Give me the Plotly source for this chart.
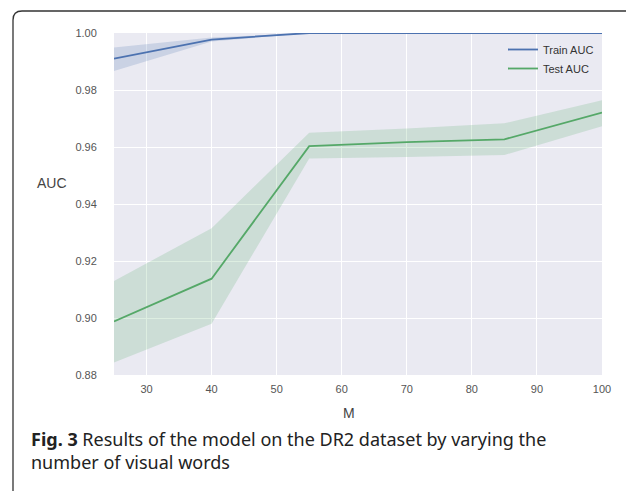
import plotly.graph_objects as go

# ---- data ----
M_values = [25, 40, 55, 70, 85, 100]
train_auc = [0.991, 0.9977, 1.0, 1.0, 1.0, 1.0]
train_low = [0.9867, 0.9970, 1.0, 1.0, 1.0, 1.0]
train_high = [0.9949, 0.9984, 1.0, 1.0, 1.0, 1.0]
test_auc = [0.8988, 0.9138, 0.9603, 0.9617, 0.9627, 0.9721]
test_low = [0.8844, 0.8980, 0.9560, 0.9565, 0.9572, 0.9673]
test_high = [0.9130, 0.9315, 0.9650, 0.9665, 0.9683, 0.9764]
x_ticks = [30, 40, 50, 60, 70, 80, 90, 100]
y_ticks = [0.88, 0.90, 0.92, 0.94, 0.96, 0.98, 1.00]

BLUE = "#4C72B0"
GREEN = "#55A868"

fig = go.Figure()

def band(x, lo, hi, color):
    fig.add_trace(go.Scatter(x=x + x[::-1], y=hi + lo[::-1], fill="toself",
                             fillcolor=color, line=dict(width=0),
                             mode="lines", hoverinfo="skip", showlegend=False))

band(M_values, train_low, train_high, "rgba(76,114,176,0.2)")
band(M_values, test_low, test_high, "rgba(85,168,104,0.2)")

fig.add_trace(go.Scatter(x=M_values, y=train_auc, mode="lines", name="Train AUC",
                         line=dict(color=BLUE, width=1.8)))
fig.add_trace(go.Scatter(x=M_values, y=test_auc, mode="lines", name="Test AUC",
                         line=dict(color=GREEN, width=1.8)))

OFF = 8  # page body margin
W, H = 634 - OFF, 491 - OFF
L, T = 114 - OFF, 33 - OFF
R = W - (602 - OFF)
B = H - (375 - OFF)
pw, ph = W - L - R, H - T - B

def px(x):
    return (x - OFF - L) / pw

def py(y):
    return (H - B - (y - OFF)) / ph

# rounded border (top-left visible corner, extends beyond right/bottom)
x0, x1, y0, y1 = px(13), px(650), py(11), py(520)
rx, ry = 9 / pw, 9 / ph
path = (f"M {x0},{y1} L {x0},{y0 - ry} Q {x0},{y0} {x0 + rx},{y0} "
        f"L {x1},{y0}")
shapes = [dict(type="path", path=path, xref="paper", yref="paper",
               line=dict(color="#333333", width=1.3), layer="above")]

annotations = [
    dict(text="AUC", x=px(52), y=py(183), xref="paper", yref="paper",
         xanchor="center", yanchor="middle", showarrow=False,
         font=dict(family="Liberation Sans, Arial", size=14, color="#444444")),
    dict(text="M", x=px(349), y=py(413), xref="paper", yref="paper",
         xanchor="center", yanchor="middle", showarrow=False,
         font=dict(family="Liberation Sans, Arial", size=14, color="#444444")),
    dict(text="<b>Fig. 3</b> Results of the model on the DR2 dataset by varying the<br>number of visual words",
         x=px(29), y=py(425), xref="paper", yref="paper", xanchor="left", yanchor="top",
         align="left", showarrow=False,
         font=dict(family="Noto Sans, Open Sans", size=18, color="#222222")),
]

fig.update_layout(
    width=W, height=H,
    margin=dict(l=L, r=R, t=T, b=B),
    paper_bgcolor="white", plot_bgcolor="#EAEAF2",
    shapes=shapes, annotations=annotations,
    legend=dict(x=px(503), y=py(35), xanchor="left", yanchor="top",
                bgcolor="rgba(0,0,0,0)", font=dict(family="Liberation Sans, Arial", size=11, color="#333333"),
                itemwidth=30, tracegroupgap=0),
    xaxis=dict(range=[25, 100], tickvals=x_ticks, showgrid=True, gridcolor="white",
               gridwidth=1.2, zeroline=False, showline=False,
               ticks="outside", ticklen=4, tickcolor="rgba(0,0,0,0)",
               tickfont=dict(family="Liberation Sans, Arial", size=11, color="#555555")),
    yaxis=dict(range=[0.88, 1.00], tickvals=y_ticks, tickformat=".2f", showgrid=True,
               gridcolor="white", gridwidth=1.2, zeroline=False, showline=False,
               ticks="outside", ticklen=14, tickcolor="rgba(0,0,0,0)",
               tickfont=dict(family="Liberation Sans, Arial", size=11, color="#555555")),
)

fig.write_html("out.html")
